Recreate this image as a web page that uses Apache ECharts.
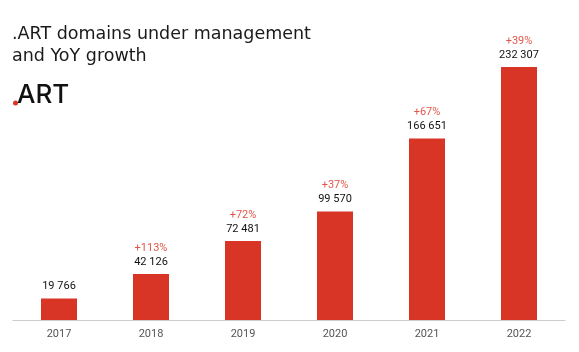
<!DOCTYPE html>
<html>
<head>
<meta charset="utf-8">
<script src="https://cdn.jsdelivr.net/npm/echarts@6/dist/echarts.min.js"></script>
<style>
    html, body { margin: 0; padding: 0; background: #fff; }
    #chart { width: 579px; height: 352px; }
</style>
</head>
<body>
<div id="chart"></div>
<script>
var years = ['2017', '2018', '2019', '2020', '2021', '2022'];
var domains = [19766, 42126, 72481, 99570, 166651, 232307];
var growth = ['', '+113%', '+72%', '+37%', '+67%', '+39%'];

//数字千位用空格分隔
function fmt(n) {
    return String(n).replace(/\B(?=(\d{3})+(?!\d))/g, ' ');
}

var chart = echarts.init(document.getElementById('chart'));
chart.setOption({
    animation: false,
    title: {
        text: '.ART domains under management\nand YoY growth',
        left: 12,
        top: 23,
        padding: 0,
        textStyle: {
            fontFamily: 'DejaVu Sans',
            fontSize: 17.5,
            fontWeight: 'normal',
            color: '#1a1a1a',
            lineHeight: 22
        }
    },
    graphic: [
        { type: 'circle', shape: { cx: 15.5, cy: 103, r: 2.5 }, style: { fill: '#d93526' } },
        {
            type: 'text', left: 17, top: 82,
            style: { text: 'ART', font: '500 26px Inter', fill: '#111' }
        }
    ],
    grid: { left: 13, right: 14, top: 67, bottom: 32 },
    xAxis: {
        type: 'category',
        data: years,
        axisLine: { lineStyle: { color: '#cccccc' } },
        axisTick: { show: false },
        axisLabel: { color: '#555', fontSize: 11, fontFamily: 'Roboto', margin: 9 }
    },
    yAxis: {
        type: 'value',
        min: 0,
        max: 'dataMax',
        show: false,
        splitLine: { show: false }
    },
    series: [{
        type: 'bar',
        data: domains,
        barWidth: 36,
        itemStyle: { color: '#d93526' },
        label: {
            show: true,
            position: 'top',
            distance: 5,
            formatter: function (p) {
                var g = growth[p.dataIndex];
                return (g ? '{p|' + g + '}\n' : '') + '{v|' + fmt(p.value) + '}';
            },
            rich: {
                p: { color: '#e0574a', fontSize: 11, fontFamily: 'Roboto', lineHeight: 14 },
                v: { color: '#111', fontSize: 11, fontFamily: 'Roboto', lineHeight: 14 }
            }
        }
    }]
});
</script>
</body>
</html>
